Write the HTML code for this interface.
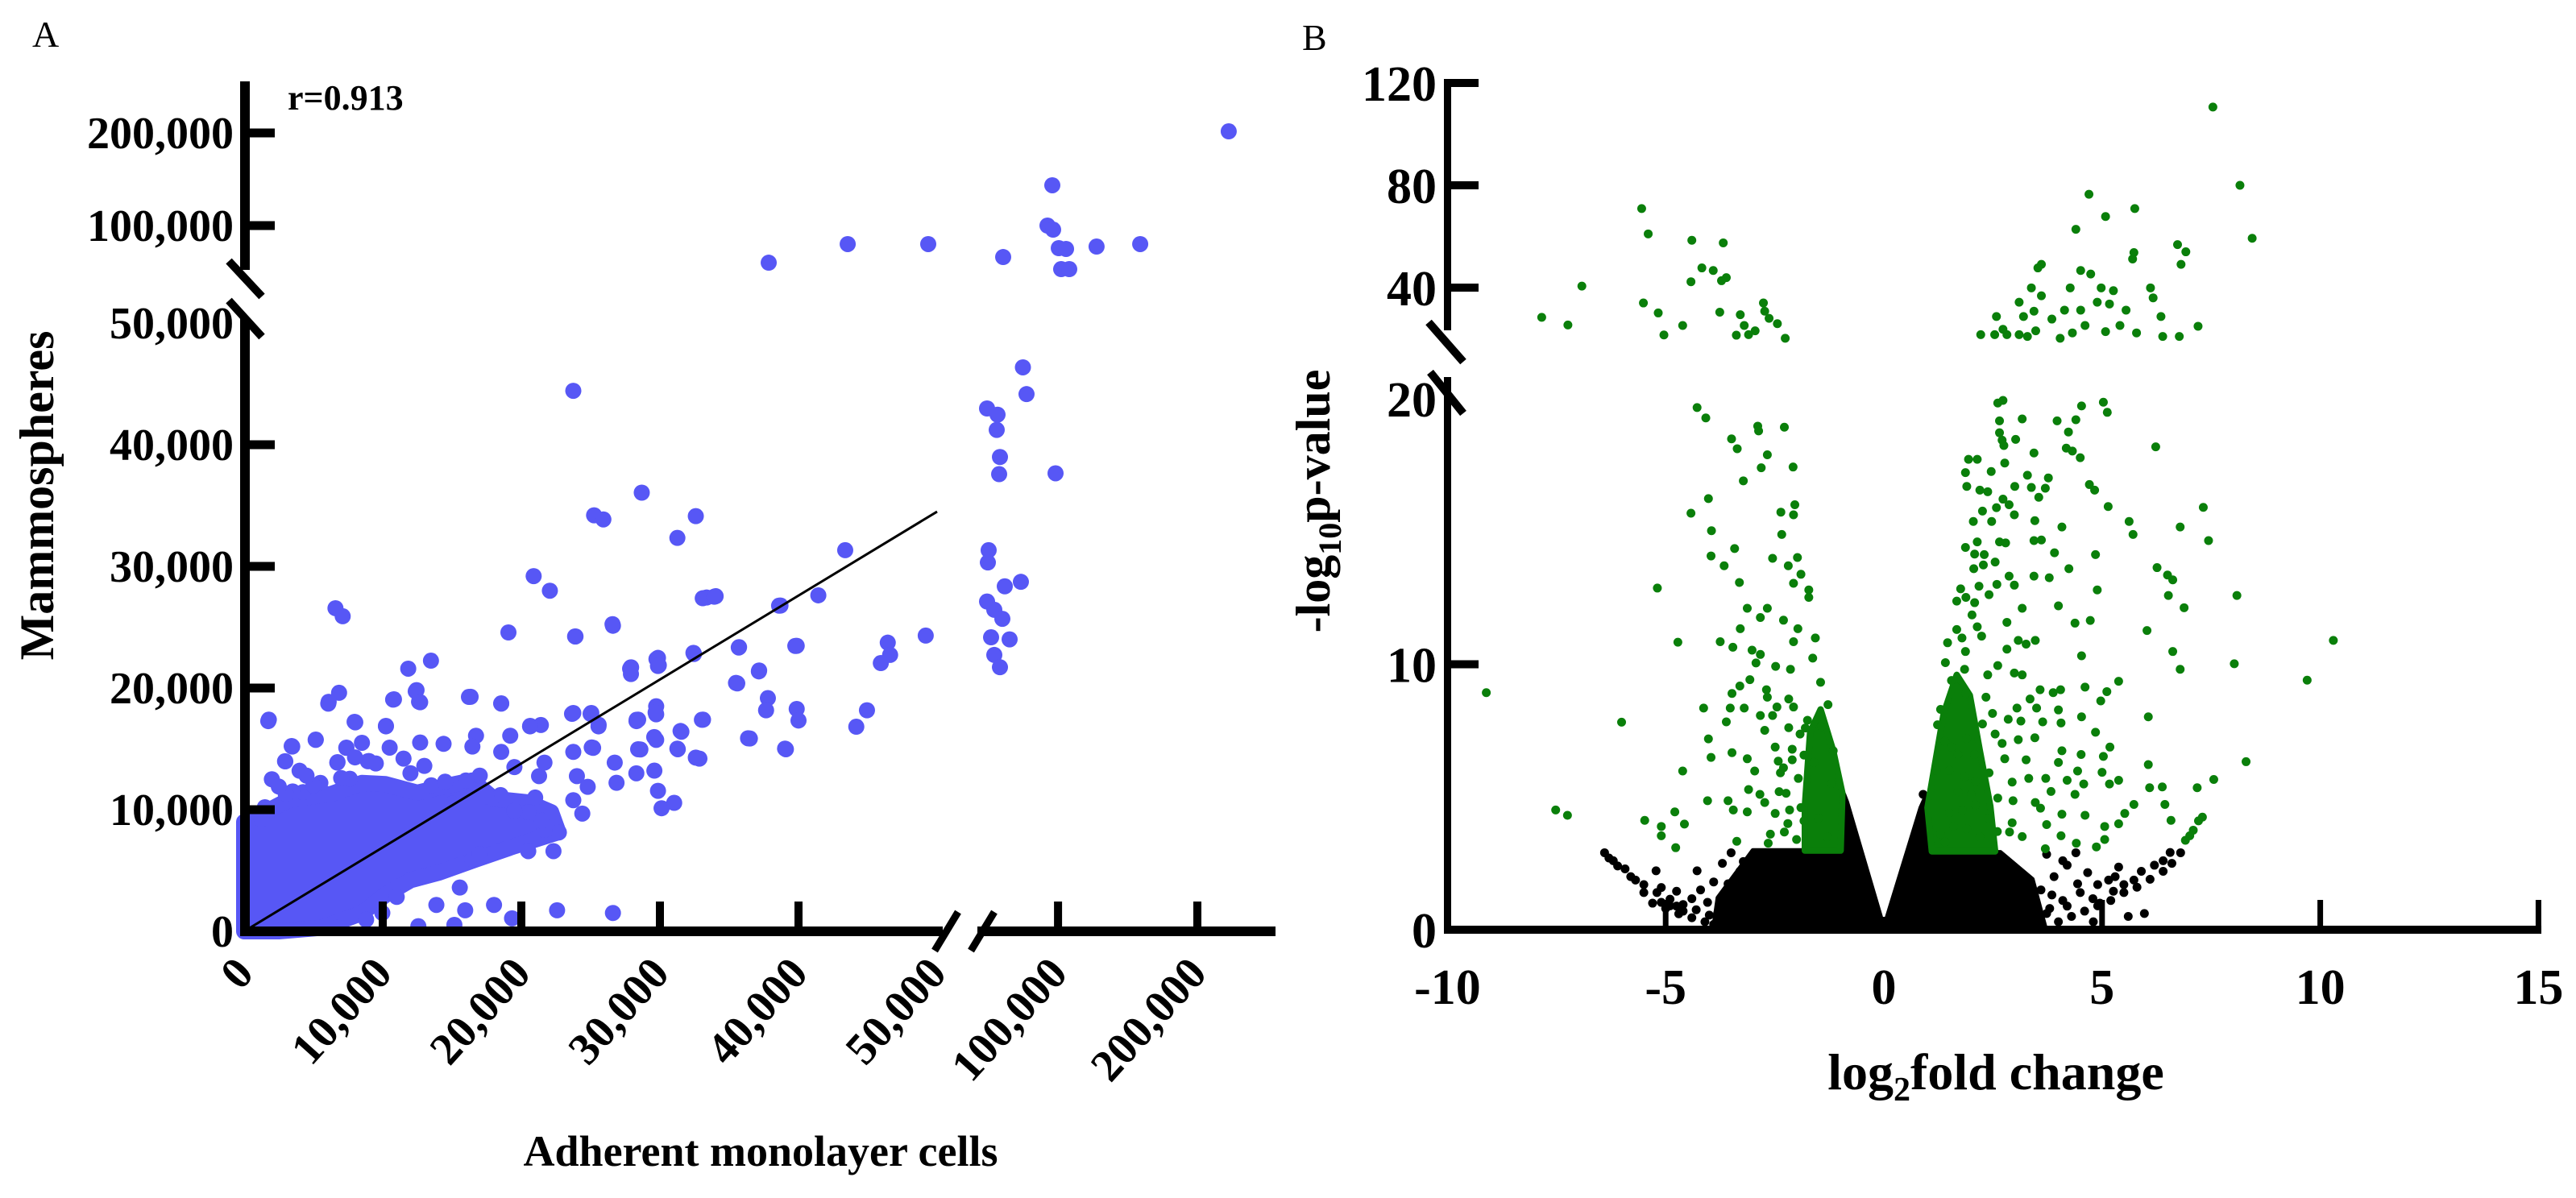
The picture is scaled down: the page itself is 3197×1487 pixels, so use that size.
<!DOCTYPE html>
<html><head><meta charset="utf-8">
<style>
html,body{margin:0;padding:0;background:#fff;}
svg{display:block;font-family:"Liberation Serif",serif;}
</style></head>
<body>
<svg id="fig" width="3197" height="1487" viewBox="0 0 3197 1487" xmlns="http://www.w3.org/2000/svg">
<g id="panelA"></g>
<g id="panelB"></g>
</svg>
<script>
// ---------- Panel A data ----------
const aYTicks = [0, 10000, 20000, 30000, 40000, 50000, 100000, 200000];
const aYTickLabels = ["0", "10,000", "20,000", "30,000", "40,000", "50,000", "100,000", "200,000"];
const aXTicks = [0, 10000, 20000, 30000, 40000, 50000, 100000, 200000];
const aXTickLabels = ["0", "10,000", "20,000", "30,000", "40,000", "50,000", "100,000", "200,000"];
const aX = [20890,22060,6590,7110,19070,26610,23880,33370,34020,38700,13480,11840,27910,27910,29860,29860,32460,35710,37140,35580,39870,6850,6070,10750,12440,12700,16340,18550,1780,8020,10230,23750,25050,25570,28430,29730,29730,33110,37790,39870,5160,3470,2950,7370,6720,8930,12700,14390,16730,16470,19200,20630,21410,23750,25180,28430,29730,31290,31550,32850,36490,39090,26740,28300,29600,26870,24010,24790,29860,30120,31030,23750,24400,22710,21670,20500,22320,21280,21670,18550,7630,4250,1260,15560,11010,13870,15950,18030,19330,22580,26610,8800,9970,12570,15170,6720,16470,16990,
23750,28690,25250,25920,32590,31260,43370,33090,33930,38600,41430,26580,23910,32420,35690,39770,27920,29750,29920,37160,35490,46440,46610,45940,49180,37660,40000,44940,44170,25580,28320,29690,33030,31490,29590,36360,39030,31260,28590,25080,32590,
59590,65550,65090,66930,66470,80000,82060,98580,60500,60050,69680,78850,59590,63720,68300,61880,72430,63720,66930,
222500,96740,94000,97200,100600,105800,102300,108100,127700,159000,68760,49360,43550,37850,
1740,6100,10810,12380,12620,16220,18550,7970,10230,3430,5170,2970,7380,6740,20640,23660,25000,27850,28310,
2000,4000,9000,14000,15000,17000,19500,21000,3500,8500,12000,13500,5500,
1500,3000,5000,7000,9500,11500,13000,16000,18500,20500,2500,4500,8000,10500,14500,17500,19500,21500];
const aY = [29200,28000,26560,25900,24570,25120,24240,27440,27550,26780,22250,21590,21700,21150,22480,21810,22800,23360,21370,20380,23470,19610,18720,19050,19830,18830,19280,18720,17400,17180,16850,17950,17950,16850,17400,18500,17840,17400,19170,18280,15740,15190,13980,15080,13870,13980,15520,15410,16080,15190,16080,16850,16960,14750,15080,14970,15740,14970,16410,14200,15850,14970,13870,12990,13210,12210,12760,11880,11550,10120,10560,10780,9680,8130,8350,6590,6590,12760,13870,14750,12540,11440,9230,3600,2830,2170,1730,2170,1070,1730,1510,960,1510,420,530,300,5920,6360,
44430,36060,34200,33860,34130,32340,31330,27380,27510,26770,27620,25250,24240,22890,23330,23460,21700,22380,21870,21440,20420,23730,22720,22050,24310,18170,17330,18170,16820,16980,17390,17990,17390,16470,15970,15870,15020,15020,14950,15120,14280,
42980,42470,41220,38990,37580,46360,44160,37650,31330,30320,28360,28730,27110,26430,25690,24170,24000,22720,21710,
201700,143500,100000,96400,80000,79300,61400,61400,81400,83600,72100,83600,83600,67100,
17280,18870,19070,19730,18870,19270,18740,17220,16890,15230,15760,13970,15100,13910,16890,17880,17880,21590,17280,
12500,13200,14000,11800,10500,12800,13500,11000,11500,15500,13000,12000,12200,
10200,11300,12000,12600,13800,14200,13600,12400,11200,9800,11900,12800,14300,15100,12300,11100,9900,9100];
// dense core outline (value space)
const aCoreX = [0,0,1200,3200,6300,8500,10200,12500,14360,16450,18000,20500,22150,22670,19500,16700,14070,12000,10200,8500,5640,2500];
const aCoreY = [0,9000,9600,10800,11300,12200,12100,11400,11900,12400,10900,10600,9800,8150,7000,5900,4830,4200,3000,1500,300,0];
const aFitX = [0, 50000];
const aFitY = [0, 34500];

// ---------- Panel B data ----------
const bXTicks = [-10, -5, 0, 5, 10, 15];
const bYTicks = [0, 10, 20, 40, 80, 120];
const bGreenX = [-4.28,-4.08,-2.89,-2.87,-2.28,-3.49,-3.36,-2.67,-2.81,-2.08,-3.22,-4.02,-4.42,-2.04,-2.36,-2.07,-3.95,-2.34,-3.42,-3.96,-2.55,-1.98,-3.66,-2.19,-1.9,-3.31,-2.07,-1.72,-1.72,-5.19,-3.13,-2.67,-2.83,-2.3,-3.29,-1.97,-4.72,-3.75,-3.46,-3.02,-2.83,-2.07,-1.57,-1.63,-2.93,-2.48,-2.14,-1.45,-3.07,-3.3,-3.48,-2.69,-2.67,-2.18,-9.11,-4.13,-3.52,-3.2,-2.45,-2.07,-1.28,-2.83,-2.55,-1.75,-3.61,-6.01,-2.18,-2.73,-1.43,-4.02,-1.92,-2.49,-3.48,-3.96,-3.13,-2.42,-2.1,-1.83,-1.16,-4.61,-2.96,-2.37,-1.96,-3.1,-2.84,-2.24,-4.04,-3.57,-3.45,-3.13,-2.73,-2.49,-2.16,-1.83,-7.52,-7.25,-5.48,-5.1,-4.79,-4.57,-5.1,-4.77,-3.37,-2.65,-2.28,
2.61,2.73,4.53,5.03,5.12,2.65,3.17,3.97,4.4,2.65,4.23,2.71,3.02,4.18,4.32,6.23,2.75,3.44,4.5,1.94,2.14,2.77,1.87,2.46,3.29,3.77,1.9,2.2,2.38,3.0,3.38,3.7,4.71,4.83,2.73,3.55,2.87,2.58,2.26,5.14,7.32,2.99,2.05,2.47,3.46,4.08,5.62,6.79,5.71,7.44,2.14,2.65,2.79,3.44,3.61,1.87,2.08,2.3,3.91,4.85,2.28,2.06,2.55,4.24,6.26,6.5,6.62,3.44,3.79,2.87,2.59,2.99,2.18,1.76,1.88,4.89,8.09,6.52,2.41,1.67,2.08,4.0,3.17,6.88,2.02,4.38,4.73,2.82,6.03,2.14,1.67,1.79,2.24,3.08,3.47,3.26,1.46,2.82,1.87,6.62,4.53,8.03,6.79,1.41,2.61,1.85,2.38,2.99,3.17,1.55,5.38,4.61,3.58,3.88,4.05,1.88,5.11,4.97,2.34,3.35,2.49,3.05,3.5,4.0,6.06,4.53,2.85,3.14,2.26,3.64,4.06,1.23,4.85,2.55,3.08,3.46,2.71,1.55,5.18,4.08,4.52,2.08,3.26,2.77,8.3,5.03,4.0,6.06,4.44,5.0,3.32,1.85,3.71,5.38,5.17,7.56,7.18,6.38,6.09,4.58,4.2,2.41,2.94,3.83,4.38,3.47,2.96,2.61,5.73,6.44,7.3,3.59,4.08,4.61,5.52,6.58,7.21,2.94,3.73,5.06,5.38,7.09,7.01,6.91,2.88,3.17,4.06,5.06,4.41,3.7,4.87,
-7.84,-7.24,-6.92,-5.55,-5.4,-4.4,-3.68,-4.17,-3.91,-3.61,-3.72,-4.42,-5.51,-5.17,-4.61,-5.04,-3.76,-3.29,-2.76,-2.73,-2.63,-2.44,-3.2,-2.95,-3.38,-2.26,-3.1,
7.54,8.16,8.44,4.7,5.08,5.75,4.4,6.73,6.92,5.73,5.7,6.81,3.61,3.53,4.51,4.74,4.27,4.98,5.26,6.11,6.17,3.38,3.61,3.1,4.89,5.17,5.55,4.14,4.51,3.44,2.58,3.85,6.35,5.41,7.2,4.61,5.08,5.79,6.39,6.77,2.22,2.54,2.82,3.1,3.29,3.48,4.04,4.32,2.73,3.2,
10.3,9.7,-1.3,-1.5,-1.2,-1.6,1.3,1.5,1.7,1.2,1.4,1.9,2.1,
-2.0,-2.2,-1.9,-2.4,-2.6,-2.1,-1.8,-2.3,1.4,1.6,1.8,2.0,2.2,2.4,1.5,1.7,1.9,2.1,1.3,2.6];
const bGreenY = [19.67,19.28,18.97,18.79,18.93,18.49,18.12,17.89,17.4,17.43,16.91,16.24,15.69,16.01,15.73,15.63,15.03,14.89,14.36,14.08,13.99,14.02,13.71,13.71,13.39,13.08,13.05,12.8,12.52,12.87,12.11,12.11,11.76,11.66,11.34,11.34,10.83,10.85,10.64,10.53,10.37,10.85,10.99,10.23,10.05,9.92,9.81,9.32,9.42,9.18,8.9,9.04,8.76,8.69,8.93,8.35,8.35,8.35,8.39,8.39,8.48,8.07,8.07,7.89,7.83,7.82,7.61,7.51,7.65,7.19,7.37,6.88,6.67,6.49,6.44,6.35,6.4,6.58,6.74,5.98,5.98,5.91,5.7,5.28,5.1,5.14,4.86,4.86,4.51,4.44,4.79,4.38,4.51,4.1,4.51,4.31,4.12,3.89,4.44,3.98,3.54,3.09,3.33,3.26,3.68,
19.84,19.94,19.73,19.87,19.49,19.17,19.24,19.17,19.21,18.72,18.75,18.44,18.47,18.14,18.03,18.19,18.24,17.96,17.78,17.72,17.72,17.58,17.22,17.26,17.12,17.02,16.7,16.56,16.5,16.7,16.66,16.63,16.77,16.56,16.22,16.29,16.01,15.9,15.77,15.94,15.91,15.63,15.38,15.38,15.41,15.17,15.38,15.17,14.89,14.66,14.61,14.61,14.57,14.66,14.68,14.4,14.15,14.13,14.2,14.13,13.74,13.6,13.85,13.6,13.64,13.36,13.18,13.32,13.26,13.32,13.01,12.98,12.94,12.84,12.52,12.8,12.59,12.59,12.62,12.38,12.32,12.2,12.11,12.13,11.86,11.55,11.65,11.58,11.27,11.41,11.31,10.99,11.06,10.9,10.9,10.76,10.81,10.57,10.48,10.48,10.32,10.02,9.81,10.06,9.95,9.81,9.6,9.67,9.6,9.39,9.36,9.14,9.04,8.93,9.04,8.9,8.97,8.62,8.76,8.69,8.15,8.35,8.35,8.28,8.02,8.02,7.93,7.86,7.75,7.83,7.79,7.72,7.44,7.37,7.16,7.23,7.02,6.88,6.88,6.74,6.6,6.6,6.4,6.44,6.33,6.53,6.3,6.22,5.98,5.93,5.7,5.77,5.7,5.63,5.49,5.66,5.35,5.38,5.35,5.49,5.63,5.91,5.56,5.21,5.1,4.79,4.86,4.96,4.72,4.72,4.24,4.58,4.35,4.31,4.38,4.12,4.1,4.03,3.96,3.89,3.99,3.75,3.54,3.37,3.68,3.51,3.54,3.4,3.26,3.05,3.12,
28.4,25.4,40.6,70.9,61.0,58.5,57.5,47.7,46.7,43.9,42.7,42.3,34.0,30.1,25.2,21.5,30.4,29.4,34.0,30.8,28.0,25.9,25.2,23.1,21.4,20.2,21.6,
110.6,80.0,59.3,76.5,67.8,70.9,62.8,56.8,54.0,53.7,51.2,49.1,49.1,47.7,46.7,45.3,39.9,39.9,38.8,39.9,36.0,39.9,36.8,34.3,34.3,33.6,31.2,31.2,31.2,30.8,28.7,27.7,28.7,25.2,24.9,25.2,22.8,22.3,20.9,20.9,21.6,21.6,21.6,21.6,20.9,23.1,20.2,22.3,23.7,28.7,
10.9,9.4,3.5,4.2,5.5,6.3,3.6,4.4,5.2,6.0,7.1,3.8,4.7,
3.4,4.0,4.6,5.2,3.6,6.8,7.6,6.1,3.3,3.9,4.5,5.1,3.5,4.2,6.0,6.6,7.2,5.6,8.3,3.7];
const bBlackX = [-6.4,-5.93,-5.69,-5.22,-5.1,-4.75,-4.4,-4.04,-4.28,-3.57,-3.22,-2.87,-4.75,-5.1,-3.81,-6.2,-5.5,-4.9,-4.6,
5.38,5.97,6.56,6.2,5.73,5.26,4.79,4.2,3.73,4.67,4.2,3.73,5.15,4.44,3.85,6.8,6.4,5.9,5.5,4.95,0.9,
-6.3,-6.1,-5.8,-5.5,-5.2,-4.9,-4.6,-4.3,-4.0,-5.3,-5.0,-4.7,-4.4,-4.1,-3.9,-3.7,-3.5,-3.3,-3.9,-4.2,
4.0,4.3,4.6,4.9,5.2,5.5,5.8,6.1,6.4,6.6,3.6,3.9,4.1,4.4,3.8,4.1,4.5,4.9,5.3,5.6,4.8];
const bBlackY = [2.9,2.29,1.87,2.22,1.59,1.45,1.17,1.03,2.22,1.73,2.57,2.84,0.89,1.03,0.61,2.6,1.4,0.9,0.7,
2.36,0.61,2.91,2.43,1.87,1.45,1.17,0.89,0.61,2.15,2.43,2.84,1.87,1.73,1.31,2.9,2.6,2.2,1.7,1.0,5.1,
2.7,2.4,2.0,1.7,1.4,1.15,0.95,0.75,0.55,1.0,0.8,0.6,0.45,0.3,0.2,2.5,2.9,2.2,1.8,1.5,
0.3,0.5,0.7,0.9,1.1,1.4,1.6,1.9,2.2,2.5,1.5,2.0,2.6,2.9,0.8,1.1,1.4,1.7,2.0,0.5,0.3];
const bBlackCoreX = [-3.9,-3.8,-3.0,-1.0,-0.92,-0.85,0,0.85,0.96,1.08,2.67,3.4,3.7];
const bBlackCoreY = [0.05,1.2,2.98,2.98,5.1,4.8,0.05,4.6,5.0,2.91,2.91,1.9,0.05];
const bGreenCoreLX = [-1.81,-0.99,-0.95,-1.16,-1.45,-1.69,-1.81];
const bGreenCoreLY = [2.98,2.98,5.14,6.74,8.3,7.44,4.65];
const bGreenCoreRX = [1.1,1.0,1.37,1.67,1.97,2.2,2.44,2.55];
const bGreenCoreRY = [2.95,4.6,8.14,9.6,8.83,6.74,4.65,2.95];

const NS = "http://www.w3.org/2000/svg";
function mk(parent, tag, attrs, txt) {
  const e = document.createElementNS(NS, tag);
  for (const k in attrs) e.setAttribute(k, attrs[k]);
  if (txt !== undefined) e.textContent = txt;
  parent.appendChild(e);
  return e;
}
// ---------- axis functions ----------
function ax(v) { return v <= 50000 ? 303 + v * 0.0172 : (v <= 100000 ? 1215 + (v - 55000) * 0.00218 : 1313 + (v - 100000) * 0.00173); }
function ay(v) { return v <= 50000 ? 1156 - v * 0.0151 : (v <= 100000 ? 350 - (v - 50000) * 0.0014 : 280 - (v - 100000) * 0.00115); }
function bx(v) { return 2338 + 54.16 * v; }
function by(v) { return v <= 20 ? 1154 - 32.95 * v : 357 - (v - 40) * 3.175; }

// ================= PANEL A =================
const A = document.getElementById('panelA');
const BLUE = "#5757f5";
let t;
t = mk(A, 'text', {x: 40, y: 58, 'font-size': 46}, 'A');


t = mk(A, 'text', {x: 357, y: 136, 'font-size': 44, 'font-weight': 'bold'}, 'r=0.913');



const aCorePts = aCoreX.map((v, i) => ax(v) + ',' + ay(aCoreY[i])).join(' ');
t = mk(A, 'polygon', {points: aCorePts, fill: BLUE, stroke: BLUE, 'stroke-width': 20, 'stroke-linejoin': 'round'});


const aPts = mk(A, 'g', {});


aX.forEach((v, i) => {
  const c = mk(aPts, 'circle', {cx: ax(v), cy: ay(aY[i]), r: 10, fill: BLUE});
  
  
});
t = mk(A, 'line', {x1: ax(aFitX[0]), y1: ay(aFitY[0]), x2: ax(aFitX[1]), y2: ay(aFitY[1]), stroke: '#000', 'stroke-width': 3});



const aAxes = mk(A, 'g', {fill: '#000'});


mk(aAxes, 'rect', {x: 298, y: 101, width: 12, height: 234});
mk(aAxes, 'rect', {x: 298, y: 395, width: 12, height: 767});
mk(aAxes, 'rect', {x: 298, y: 1150, width: 872, height: 12});
mk(aAxes, 'rect', {x: 1213, y: 1150, width: 370, height: 12});
mk(aAxes, 'line', {x1: 284, y1: 324, x2: 325, y2: 368, stroke: '#000', 'stroke-width': 10});
mk(aAxes, 'line', {x1: 284, y1: 373, x2: 325, y2: 418, stroke: '#000', 'stroke-width': 10});
mk(aAxes, 'line', {x1: 1189, y1: 1132, x2: 1160, y2: 1180, stroke: '#000', 'stroke-width': 9});
mk(aAxes, 'line', {x1: 1234, y1: 1132, x2: 1205, y2: 1180, stroke: '#000', 'stroke-width': 9});
aYTicks.forEach((v, i) => {
  const y = ay(v);
  if (v !== 0 && v !== 50000) mk(aAxes, 'rect', {x: 305, y: y - 5.5, width: 36, height: 11});
  const lb = mk(A, 'text', {x: 290, y: y + 19, 'font-size': 56, 'font-weight': 'bold', 'text-anchor': 'end'}, aYTickLabels[i]);
  
  
});
aXTicks.forEach((v, i) => {
  const x = ax(v);
  if (v !== 0 && v !== 50000) mk(aAxes, 'rect', {x: x - 5, y: 1119, width: 10, height: 34});
  const lb = mk(A, 'text', {x: 0, y: 0, 'font-size': 56, 'font-weight': 'bold', 'text-anchor': 'end',
    transform: 'translate(' + (x + 14) + ',1210) rotate(-48)'}, aXTickLabels[i]);
  
  
});
t = mk(A, 'text', {x: 0, y: 0, 'font-size': 60, 'font-weight': 'bold', 'text-anchor': 'middle', transform: 'translate(66,615) rotate(-90)'}, 'Mammospheres');


t = mk(A, 'text', {x: 944, y: 1447, 'font-size': 54, 'font-weight': 'bold', 'text-anchor': 'middle'}, 'Adherent monolayer cells');



// ================= PANEL B =================
const B = document.getElementById('panelB');
const GREEN = "#0a7f0a";
t = mk(B, 'text', {x: 1616, y: 62, 'font-size': 46}, 'B');



const blackG = mk(B, 'g', {});


t = mk(blackG, 'polygon', {points: bBlackCoreX.map((v, i) => bx(v) + ',' + by(bBlackCoreY[i])).join(' '), fill: '#000', stroke: '#000', 'stroke-width': 6, 'stroke-linejoin': 'round'});


bBlackX.forEach((v, i) => {
  const c = mk(blackG, 'circle', {cx: bx(v), cy: by(bBlackY[i]), r: 5.5, fill: '#000'});
  
  
});
const greenG = mk(B, 'g', {});


t = mk(greenG, 'polygon', {points: bGreenCoreLX.map((v, i) => bx(v) + ',' + by(bGreenCoreLY[i])).join(' '), fill: GREEN, stroke: GREEN, 'stroke-width': 8, 'stroke-linejoin': 'round'});


t = mk(greenG, 'polygon', {points: bGreenCoreRX.map((v, i) => bx(v) + ',' + by(bGreenCoreRY[i])).join(' '), fill: GREEN, stroke: GREEN, 'stroke-width': 8, 'stroke-linejoin': 'round'});


bGreenX.forEach((v, i) => {
  const c = mk(greenG, 'circle', {cx: bx(v), cy: by(bGreenY[i]), r: 5.5, fill: GREEN});
  
  
});

const bAxes = mk(B, 'g', {fill: '#000'});


mk(bAxes, 'rect', {x: 1792, y: 98, width: 9, height: 312});
mk(bAxes, 'rect', {x: 1792, y: 468, width: 9, height: 691});
mk(bAxes, 'rect', {x: 1792, y: 1149, width: 1362, height: 10});
mk(bAxes, 'line', {x1: 1773, y1: 400, x2: 1816, y2: 449, stroke: '#000', 'stroke-width': 10});
mk(bAxes, 'line', {x1: 1775, y1: 462, x2: 1816, y2: 513, stroke: '#000', 'stroke-width': 10});
bYTicks.forEach(v => {
  const y = by(v);
  if (v !== 0 && v !== 20) mk(bAxes, 'rect', {x: 1797, y: y - 5, width: 38, height: 10});
  const lb = mk(B, 'text', {x: 1783, y: y + 22, 'font-size': 62, 'font-weight': 'bold', 'text-anchor': 'end'}, String(v));
  
  
});
bXTicks.forEach(v => {
  const x = bx(v);
  if (v !== -10) mk(bAxes, 'rect', {x: x - 3.5, y: v === 0 ? 1138 : 1117, width: 7, height: v === 0 ? 16 : 37});
  const lb = mk(B, 'text', {x: x, y: 1246, 'font-size': 62, 'font-weight': 'bold', 'text-anchor': 'middle'}, String(v));
  
  
});
t = mk(B, 'text', {x: 0, y: 0, 'font-size': 60, 'font-weight': 'bold', 'text-anchor': 'middle', transform: 'translate(1650,622) rotate(-90)'});


mk(t, 'tspan', {}, '-log');
mk(t, 'tspan', {'font-size': 40, dy: 14}, '10');
mk(t, 'tspan', {dy: -14}, 'p-value');
t = mk(B, 'text', {x: 2477, y: 1352, 'font-size': 64, 'font-weight': 'bold', 'text-anchor': 'middle'});


mk(t, 'tspan', {}, 'log');
mk(t, 'tspan', {'font-size': 42, dy: 14}, '2');
mk(t, 'tspan', {dy: -14}, 'fold change');
</script>
</body></html>
